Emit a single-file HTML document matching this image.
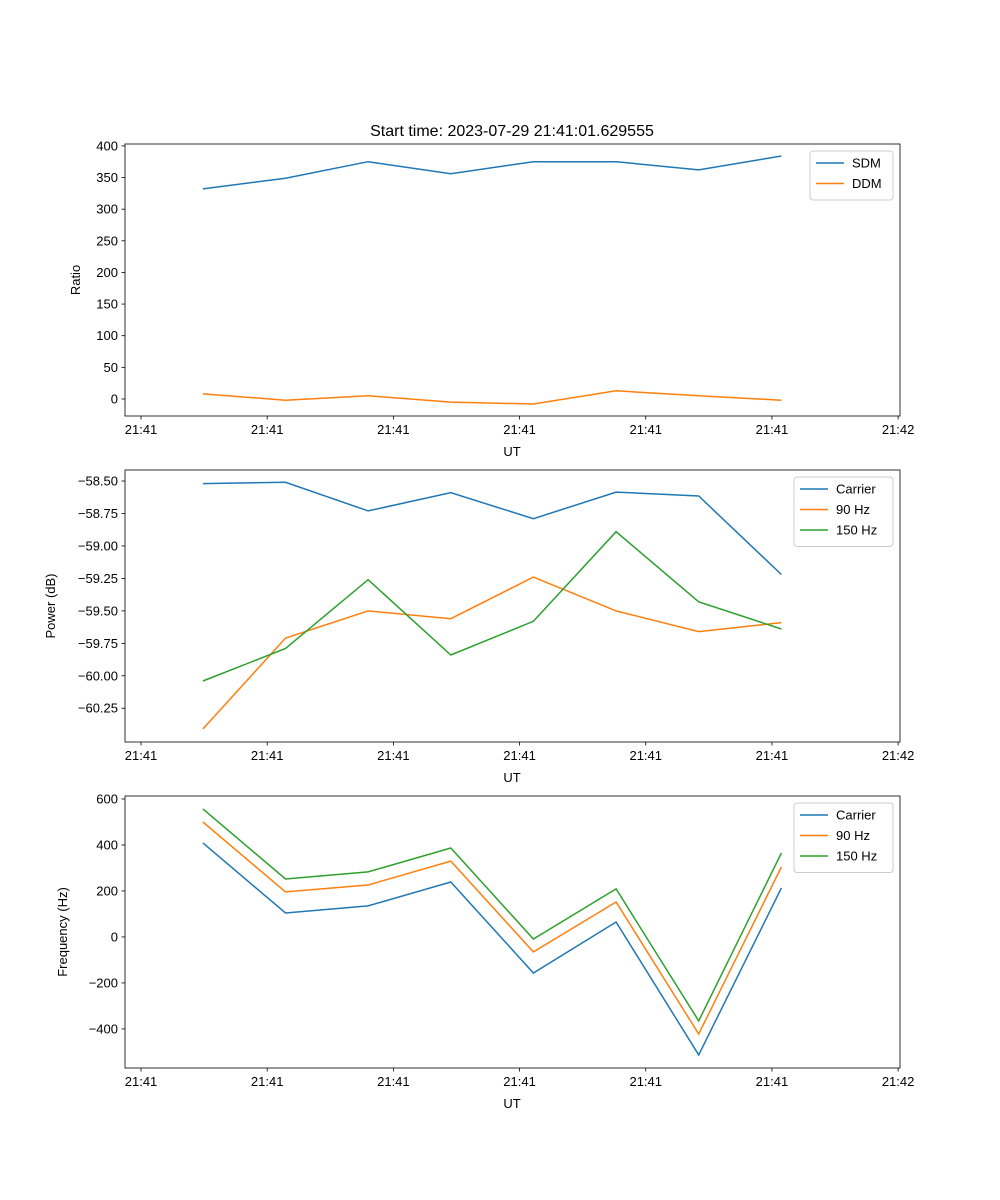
<!DOCTYPE html>
<html><head><meta charset="utf-8"><style>
body{margin:0;background:#fff}
svg{display:block;font-family:"Liberation Sans","DejaVu Sans",sans-serif}
</style></head><body>
<svg id="fig" width="1000" height="1200" viewBox="0 0 1000 1200">
<rect width="1000" height="1200" fill="#fff"/>
<text x="512" y="136" font-size="16" text-anchor="middle">Start time: 2023-07-29 21:41:01.629555</text>
</svg>
<script>
// x positions (seconds from reference) and tick labels
const times=[0.49,1.145,1.80,2.455,3.11,3.765,4.42,5.075];
const xTickVals=[0,1,2,3,4,5,6];
const xTickLabels=["21:41","21:41","21:41","21:41","21:41","21:41","21:42"];
// panel 1
const sdm=[332,349,375,356,375,375,362,384];
const ddm=[8,-2,5,-5,-8,13,5,-2];
const ratioTicks=[0,50,100,150,200,250,300,350,400];
// panel 2
const powCarrier=[-58.52,-58.51,-58.73,-58.59,-58.79,-58.585,-58.615,-59.22];
const pow90=[-60.41,-59.71,-59.50,-59.56,-59.24,-59.50,-59.66,-59.59];
const pow150=[-60.04,-59.79,-59.26,-59.84,-59.58,-58.89,-59.43,-59.64];
const powTicks=[-60.25,-60.00,-59.75,-59.50,-59.25,-59.00,-58.75,-58.50];
// panel 3
const freqCarrier=[409,104,135,239,-157,65,-513,213];
const freq90=[500,196,226,330,-65,152,-422,304];
const freq150=[557,252,283,387,-9,209,-365,365];
const freqTicks=[-400,-200,0,200,400,600];

const NS="http://www.w3.org/2000/svg";
const svg=document.getElementById('fig');
const C=["#1f77b4","#ff7f0e","#2ca02c"];
function mk(tag,attrs,parent){const e=document.createElementNS(NS,tag);for(const k in attrs)e.setAttribute(k,attrs[k]);(parent||svg).appendChild(e);return e;}
const X0=125,X1=900,xmin=-0.127,xmax=6.015;
const xs=v=>X0+(v-xmin)/(xmax-xmin)*(X1-X0);

function panel(name,top,bot,ymin,ymax,ticks,fmt,ylabel,series,names,legend){
  const g=mk('g',{});
  
  
  const ys=v=>bot-(v-ymin)/(ymax-ymin)*(bot-top);
  series.forEach((s,i)=>{
    const p=mk('polyline',{points:s.map((v,j)=>xs(times[j]).toFixed(1)+','+ys(v).toFixed(1)).join(' '),fill:'none',stroke:C[i],'stroke-width':1.5},g);
    
    
  });
  const fr=mk('rect',{x:X0,y:top,width:X1-X0,height:bot-top,fill:'none',stroke:'#000','stroke-width':0.8},g);
  
  
  xTickVals.forEach((v,i)=>{
    const x=xs(v);
    mk('line',{x1:x,x2:x,y1:bot,y2:bot+3.5,stroke:'#000','stroke-width':0.8},g);
    const t=mk('text',{x:x,y:bot+18,'font-size':13,'text-anchor':'middle'},g);
    t.textContent=xTickLabels[i];
    
    
  });
  const xl=mk('text',{x:512,y:bot+40,'font-size':13,'text-anchor':'middle'},g);
  xl.textContent='UT';
  
  
  ticks.forEach(v=>{
    const y=ys(v);
    mk('line',{x1:X0,x2:X0-3.5,y1:y,y2:y,stroke:'#000','stroke-width':0.8},g);
    const t=mk('text',{x:X0-7,y:y+4.5,'font-size':13,'text-anchor':'end'},g);
    t.textContent=fmt(v);
    
    
  });
  const yl=mk('text',{x:0,y:0,'font-size':13,'text-anchor':'middle',transform:`translate(${legend.yx},${(top+bot)/2}) rotate(-90)`},g);
  yl.textContent=ylabel;
  
  
  const lg=mk('g',{},g);
  
  
  mk('rect',{x:legend.x,y:top+7,width:legend.w,height:8+names.length*20.5,rx:3,fill:'#fff',stroke:'#ccc','stroke-width':1},lg);
  names.forEach((n,i)=>{
    const y=top+19+i*20.5;
    mk('line',{x1:legend.x+6,x2:legend.x+34,y1:y,y2:y,stroke:C[i],'stroke-width':1.5},lg);
    const t=mk('text',{x:legend.x+42,y:y+4.5,'font-size':13},lg);
    t.textContent=n;
    
    
  });
}
const pm=v=>(v<0?'\u2212':'')+Math.abs(v);
panel('ratio',144,416,-26.9,403,ratioTicks,v=>pm(v),'Ratio',[sdm,ddm],['SDM','DDM'],{x:810,w:83,yx:80});
panel('power',470,742,-60.51,-58.415,powTicks,v=>'\u2212'+Math.abs(v).toFixed(2),'Power (dB)',[powCarrier,pow90,pow150],['Carrier','90 Hz','150 Hz'],{x:794,w:99,yx:55});
panel('frequency',796,1068,-570,613,freqTicks,v=>pm(v),'Frequency (Hz)',[freqCarrier,freq90,freq150],['Carrier','90 Hz','150 Hz'],{x:794,w:99,yx:67});
</script>
</body></html>
